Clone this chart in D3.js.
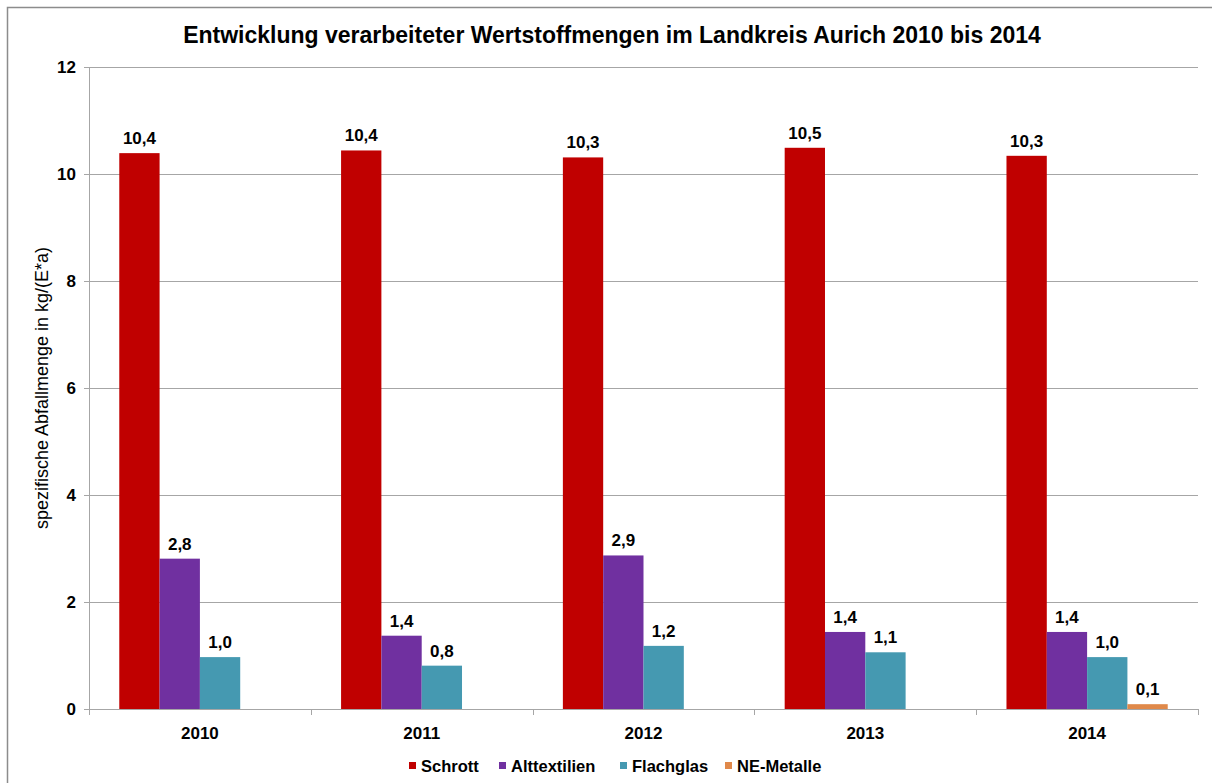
<!DOCTYPE html>
<html>
<head>
<meta charset="utf-8">
<script src="https://cdn.jsdelivr.net/npm/d3@7"></script>
<style>
  body { margin: 0; background: #fff; }
  text { font-family: "Liberation Sans", Arial, sans-serif; fill: #000; }
</style>
</head>
<body>
<div id="chart"></div>
<script>
var years = ["2010", "2011", "2012", "2013", "2014"];
var seriesNames = ["Schrott", "Alttextilien", "Flachglas", "NE-Metalle"];
var schrott = [10.39, 10.44, 10.31, 10.49, 10.34];
var alttextilien = [2.81, 1.37, 2.87, 1.44, 1.44];
var flachglas = [0.97, 0.81, 1.18, 1.06, 0.97];
var neMetalle = [null, null, null, null, 0.09];
var yTicks = [0, 2, 4, 6, 8, 10, 12];
var colors = ["#C00000", "#7030A0", "#4599B1", "#E0894A"];

var width = 1212, height = 783;
var margin = { left: 89, right: 14, top: 67, bottom: 74 };

var svg = d3.select("#chart").append("svg")
  .attr("width", width)
  .attr("height", height);

// frame (partly cut off at right/bottom in the original)
svg.append("path")
  .attr("d", "M7.5 " + height + " L7.5 7.5 L" + width + " 7.5")
  .attr("stroke", "#8c8c8c")
  .attr("stroke-width", 1.5)
  .attr("fill", "none");

svg.append("text")
  .attr("x", 612)
  .attr("y", 43)
  .attr("text-anchor", "middle")
  .attr("font-size", 23)
  .attr("font-weight", "bold")
  .text("Entwicklung verarbeiteter Wertstoffmengen im Landkreis Aurich 2010 bis 2014");

var x0 = d3.scaleBand()
  .domain(years)
  .range([margin.left, width - margin.right]);

var y = d3.scaleLinear()
  .domain([0, 12])
  .range([height - margin.bottom, margin.top]);

var groupW = x0.bandwidth() * 0.727;
var x1 = d3.scaleBand()
  .domain(seriesNames)
  .range([0, groupW]);

// gridlines
svg.append("g")
  .selectAll("line")
  .data(yTicks)
  .enter()
  .append("line")
    .attr("x1", margin.left - 5)
    .attr("x2", width - margin.right)
    .attr("y1", d => Math.round(y(d)) + 0.5)
    .attr("y2", d => Math.round(y(d)) + 0.5)
    .attr("stroke", "#a6a6a6")
    .attr("stroke-width", 1);

// y axis line
svg.append("line")
  .attr("x1", margin.left + 0.5).attr("x2", margin.left + 0.5)
  .attr("y1", y(12)).attr("y2", y(0))
  .attr("stroke", "#a6a6a6");

svg.append("g")
  .selectAll("text")
  .data(yTicks)
  .enter()
  .append("text")
    .attr("x", 76)
    .attr("y", d => y(d) + 6)
    .attr("text-anchor", "end")
    .attr("font-size", 17)
    .attr("font-weight", "bold")
    .text(d => d);

// category ticks
var catEdges = years.map(d => x0(d)).concat([width - margin.right]);
svg.append("g")
  .selectAll("line")
  .data(catEdges)
  .enter()
  .append("line")
    .attr("x1", d => Math.round(d) + 0.5)
    .attr("x2", d => Math.round(d) + 0.5)
    .attr("y1", y(0))
    .attr("y2", y(0) + 6)
    .attr("stroke", "#a6a6a6");

svg.append("g")
  .selectAll("text")
  .data(years)
  .enter()
  .append("text")
    .attr("x", d => x0(d) + x0.bandwidth() / 2)
    .attr("y", y(0) + 30)
    .attr("text-anchor", "middle")
    .attr("font-size", 17)
    .attr("font-weight", "bold")
    .text(d => d);

var seriesValues = [schrott, alttextilien, flachglas, neMetalle];
var rows = [];
seriesValues.forEach((vals, s) => {
  vals.forEach((v, i) => {
    if (v != null) rows.push({ year: years[i], series: seriesNames[s], value: v, color: colors[s] });
  });
});

var fmt = v => d3.format(".1f")(v).replace(".", ",");
var offset = (x0.bandwidth() - groupW) / 2;

var bars = svg.append("g")
  .selectAll("g")
  .data(rows)
  .enter()
  .append("g");

bars.append("rect")
  .attr("x", d => x0(d.year) + offset + x1(d.series))
  .attr("y", d => y(d.value))
  .attr("width", x1.bandwidth())
  .attr("height", d => y(0) - y(d.value))
  .attr("fill", d => d.color);

bars.append("text")
  .attr("x", d => x0(d.year) + offset + x1(d.series) + x1.bandwidth() / 2)
  .attr("y", d => y(d.value) - 9)
  .attr("text-anchor", "middle")
  .attr("font-size", 17)
  .attr("font-weight", "bold")
  .text(d => fmt(d.value));

// y axis title
svg.append("text")
  .attr("transform", "translate(48," + (y(6)) + ") rotate(-90)")
  .attr("text-anchor", "middle")
  .attr("font-size", 18)
  .text("spezifische Abfallmenge in kg/(E*a)");

// legend
var legendX = [409, 499, 620, 725];
var legend = svg.append("g")
  .selectAll("g")
  .data(seriesNames)
  .enter()
  .append("g")
    .attr("transform", (d, i) => "translate(" + legendX[i] + ",766)");

legend.append("rect")
  .attr("x", 0).attr("y", -4)
  .attr("width", 7).attr("height", 7)
  .attr("fill", (d, i) => colors[i]);

legend.append("text")
  .attr("x", 12)
  .attr("y", 6)
  .attr("font-size", 16.5)
  .attr("font-weight", "bold")
  .text(d => d);
</script>
</body>
</html>
